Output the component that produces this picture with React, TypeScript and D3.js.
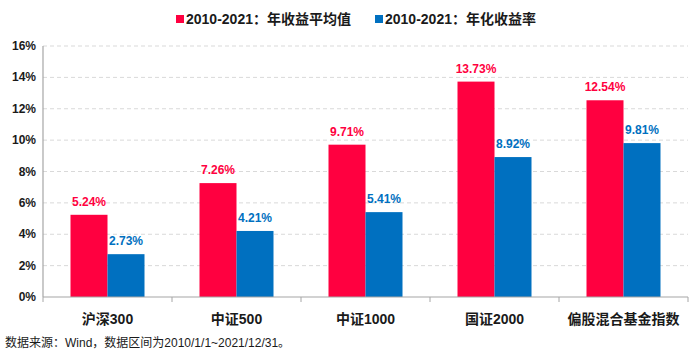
import React from "react";
import * as d3 from "d3";

const categories = ["沪深300", "中证500", "中证1000", "国证2000", "偏股混合基金指数"];
const seriesNames = ["2010-2021：年收益平均值", "2010-2021：年化收益率"];
const avgReturn = [5.24, 7.26, 9.71, 13.73, 12.54];
const annualized = [2.73, 4.21, 5.41, 8.92, 9.81];
const yTicks = [0, 2, 4, 6, 8, 10, 12, 14, 16];
const colors = ["#FF0040", "#0070C0"];
const footer = "数据来源：Wind，数据区间为2010/1/1~2021/12/31。";

export default function App() {
  const W = 700, H = 355;
  const left = 43, right = 688, top = 46, bottom = 297;
  const x = d3.scaleBand<string>().domain(categories).range([left, right]).paddingInner(0).paddingOuter(0);
  const y = d3.scaleLinear().domain([0, 16]).range([bottom, top]);
  const bw = 37;
  const font = "'Liberation Sans', Arial, 'Noto Sans CJK SC', sans-serif";
  const series = [avgReturn, annualized];
  return (
    <svg width={W} height={H} style={{ position: "absolute", left: 0, top: 0, background: "#fff" }} fontFamily={font}>
      {/* legend */}
      {seriesNames.map((n, i) => {
        const lx = i === 0 ? 176 : 375;
        return (
          <g key={n}>
            <rect x={lx} y={15} width={8} height={8} fill={colors[i]} />
            <text x={lx + 10} y={24} fontSize={14} fontWeight="bold" fill="#1a1a1a">{n}</text>
          </g>
        );
      })}
      {/* gridlines */}
      {yTicks.filter(t => t > 0).map(t => (
        <line key={t} x1={left} x2={right} y1={y(t)} y2={y(t)} stroke="#d9d9d9" strokeDasharray="4,3" />
      ))}
      {/* y tick labels */}
      {yTicks.map(t => (
        <text key={t} x={36} y={y(t) + 4} textAnchor="end" fontSize={12} fontWeight="bold" fill="#1a1a1a">{t + "%"}</text>
      ))}
      {/* bars */}
      {categories.map((c, ci) => {
        const cx = (x(c) as number) + x.bandwidth() / 2;
        return (
          <g key={c}>
            {series.map((s, si) => {
              const bx = cx - bw + si * bw;
              return (
                <g key={si}>
                  <rect x={bx} y={y(s[ci])} width={bw} height={bottom - y(s[ci])} fill={colors[si]} />
                  <text x={bx + bw / 2} y={y(s[ci]) - 9} textAnchor="middle" fontSize={12} fontWeight="bold" fill={colors[si]}>
                    {s[ci].toFixed(2) + "%"}
                  </text>
                </g>
              );
            })}
            <text x={cx} y={324} textAnchor="middle" fontSize={14} fontWeight="bold" fill="#1a1a1a">{c}</text>
          </g>
        );
      })}
      {/* axes */}
      <line x1={left} x2={left} y1={top} y2={bottom} stroke="#a6a6a6" strokeWidth={1.2} />
      <line x1={left} x2={right} y1={bottom} y2={bottom} stroke="#a6a6a6" strokeWidth={1.2} />
      {categories.map((c, i) => (
        <line key={"t" + i} x1={(x(c) as number) + x.bandwidth()} x2={(x(c) as number) + x.bandwidth()} y1={bottom} y2={bottom + 5} stroke="#a6a6a6" />
      ))}
      <line x1={left} x2={left} y1={bottom} y2={bottom + 5} stroke="#a6a6a6" />
      <text x={5} y={347} fontSize={12} fill="#1a1a1a">{footer}</text>
    </svg>
  );
}
